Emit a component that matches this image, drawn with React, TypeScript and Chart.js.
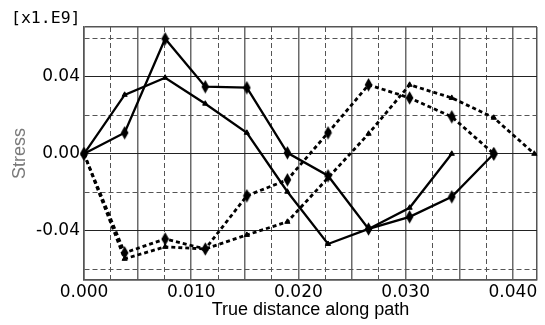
import React, { useEffect, useRef } from 'react';
import { Chart, registerables } from 'chart.js';

Chart.register(...registerables);

// True distance along path (node positions)
const pathDistance = [0, 0.00379, 0.00757, 0.01131, 0.01519, 0.01897, 0.02276, 0.02654, 0.03037, 0.0343, 0.03822, 0.0420];

// Stress values (scaled by 1.E9)
const solidDiamondStress = [0, 0.0109, 0.0597, 0.0348, 0.0343, 0.0005, -0.0114, -0.039, -0.0327, -0.0223, 0];
const solidTriangleStress = [0, 0.0306, 0.0395, 0.026, 0.0109, -0.0197, -0.0468, -0.039, -0.028, 0];
const dashedDiamondStress = [0, -0.0514, -0.0442, -0.0494, -0.0218, -0.0135, 0.0109, 0.0358, 0.029, 0.0192, 0];
const dashedTriangleStress = [0, -0.0545, -0.0483, -0.0494, -0.0421, -0.0353, -0.0125, 0.0104, 0.0358, 0.029, 0.0187, 0];

const xTickValues = [0, 0.0025, 0.005, 0.0075, 0.01, 0.0125, 0.015, 0.0175, 0.02, 0.0225, 0.025, 0.0275, 0.03, 0.0325, 0.035, 0.0375, 0.04];
const yTickValues = [-0.06, -0.04, -0.02, 0, 0.02, 0.04, 0.06];
const xMin = 0;
const xMax = 0.04225;
const yMin = -0.0655;
const yMax = 0.0658;

const xAxisTitle = 'True distance along path';
const yAxisTitle = 'Stress';
const yExponentLabel = '[x1.E9]';

const near = (v: number, step: number) => Math.abs(v / step - Math.round(v / step)) < 1e-6;
const isEdgeX = (v: number) => Math.abs(v - xMin) < 1e-9 || Math.abs(v - xMax) < 1e-9;
const isEdgeY = (v: number) => Math.abs(v - yMin) < 1e-9 || Math.abs(v - yMax) < 1e-9;

function makeDiamond(): HTMLCanvasElement {
  const c = document.createElement('canvas');
  c.width = 9;
  c.height = 14;
  const g = c.getContext('2d')!;
  g.fillStyle = '#000';
  g.beginPath();
  g.moveTo(4.5, 0.3);
  g.lineTo(8.3, 7);
  g.lineTo(4.5, 13.7);
  g.lineTo(0.7, 7);
  g.closePath();
  g.fill();
  return c;
}

const toPoints = (vals: number[]) => vals.map((y, i) => ({ x: pathDistance[i], y }));

export default function App() {
  const ref = useRef<HTMLCanvasElement>(null);

  useEffect(() => {
    document.body.style.margin = '0';
    const canvas = ref.current;
    if (!canvas) return;
    const diamond = makeDiamond();

    const base = {
      borderColor: '#000',
      backgroundColor: '#000',
      pointBackgroundColor: '#000',
      pointBorderColor: '#000',
      tension: 0,
      clip: false as any,
    };

    const chart = new Chart(canvas, {
      type: 'line',
      data: {
        datasets: [
          {
            ...base,
            data: toPoints(solidDiamondStress),
            borderWidth: 2.3,
            pointStyle: diamond as any,
            pointRadius: 5,
          },
          {
            ...base,
            data: toPoints(solidTriangleStress),
            borderWidth: 2.3,
            pointStyle: 'triangle',
            pointRadius: 3,
            pointBorderWidth: 1,
          },
          {
            ...base,
            data: toPoints(dashedDiamondStress),
            borderWidth: 2.8,
            borderDash: [4, 3],
            pointStyle: diamond as any,
            pointRadius: 5,
          },
          {
            ...base,
            data: toPoints(dashedTriangleStress),
            borderWidth: 2.8,
            borderDash: [4, 3],
            pointStyle: 'triangle',
            pointRadius: 3,
            pointBorderWidth: 1,
          },
        ] as any,
      },
      options: {
        responsive: false,
        animation: false,
        devicePixelRatio: 1,
        layout: { padding: { left: 0, right: 8, top: 27, bottom: 0 } },
        plugins: {
          legend: { display: false },
          tooltip: { enabled: false },
        },
        scales: {
          x: {
            type: 'linear',
            min: xMin,
            max: xMax,
            afterBuildTicks: (scale: any) => {
              scale.ticks = [...xTickValues, xMax].map((v) => ({ value: v }));
            },
            afterFit: (scale: any) => {
              scale.height = 45;
            },
            ticks: {
              autoSkip: false,
              maxRotation: 0,
              padding: 2,
              color: '#000',
              font: { family: 'DejaVu Sans', size: 17 },
              callback: (v: any) => {
                const n = Number(v);
                if (isEdgeX(n) && n !== 0) return '';
                return near(n, 0.01) ? n.toFixed(3) : '';
              },
            },
            grid: {
              drawTicks: false,
              color: (c: any) => {
                const v = c.tick?.value;
                if (v === undefined) return '#555';
                if (isEdgeX(v)) return '#555';
                return near(v, 0.005) ? '#6a6a6a' : '#555';
              },
              lineWidth: (c: any) => {
                const v = c.tick?.value;
                if (v === undefined) return 1;
                if (isEdgeX(v)) return 1.5;
                return near(v, 0.005) ? 1.5 : 1;
              },
            },
            border: {
              display: true,
              color: '#555',
              width: 1.5,
              dash: (c: any) => {
                const v = c.tick?.value;
                if (v === undefined) return [];
                if (isEdgeX(v) || near(v, 0.005)) return [];
                return [5, 3];
              },
            } as any,
            title: {
              display: true,
              text: xAxisTitle,
              color: '#000',
              font: { family: 'Liberation Sans', size: 18 },
              padding: { top: 0, bottom: 4 },
            },
          },
          y: {
            type: 'linear',
            min: yMin,
            max: yMax,
            afterBuildTicks: (scale: any) => {
              scale.ticks = [yMin, ...yTickValues, yMax].map((v) => ({ value: v }));
            },
            afterFit: (scale: any) => {
              scale.width = 84;
            },
            ticks: {
              autoSkip: false,
              padding: 4,
              color: '#000',
              font: { family: 'DejaVu Sans', size: 17 },
              callback: (v: any) => {
                const n = Number(v);
                if (isEdgeY(n)) return '';
                if (!near(n, 0.04)) return '';
                const s = n.toFixed(2);
                return s === '-0.00' ? '0.00' : s;
              },
            },
            grid: {
              drawTicks: false,
              color: (c: any) => {
                const v = c.tick?.value;
                if (v === undefined) return '#555';
                if (isEdgeY(v)) return '#555';
                return near(v, 0.04) ? '#222' : '#555';
              },
              lineWidth: (c: any) => {
                const v = c.tick?.value;
                if (v === undefined) return 1;
                if (isEdgeY(v)) return 1.5;
                return 1;
              },
            },
            border: {
              display: true,
              color: '#555',
              width: 1.5,
              dash: (c: any) => {
                const v = c.tick?.value;
                if (v === undefined) return [];
                if (isEdgeY(v) || near(v, 0.04)) return [];
                return [5, 3];
              },
            } as any,
            title: {
              display: true,
              text: yAxisTitle,
              color: '#7a7a7a',
              font: { family: 'Liberation Sans', size: 18 },
              padding: { top: 9, bottom: 0 },
            },
          },
        },
      },
      plugins: [
        {
          id: 'exponentLabel',
          afterDraw: (ch: any) => {
            const g = ch.ctx;
            g.save();
            g.font = '16.5px "DejaVu Sans Mono"';
            g.fillStyle = '#000';
            g.textBaseline = 'alphabetic';
            g.textAlign = 'left';
            g.fillText(yExponentLabel, 11, 23);
            g.restore();
          },
        },
      ],
    });

    return () => chart.destroy();
  }, []);

  return (
    <div style={{ position: 'absolute', left: 0, top: 0, width: 545, height: 325 }}>
      <canvas ref={ref} width={545} height={325} style={{ display: 'block' }} />
    </div>
  );
}
